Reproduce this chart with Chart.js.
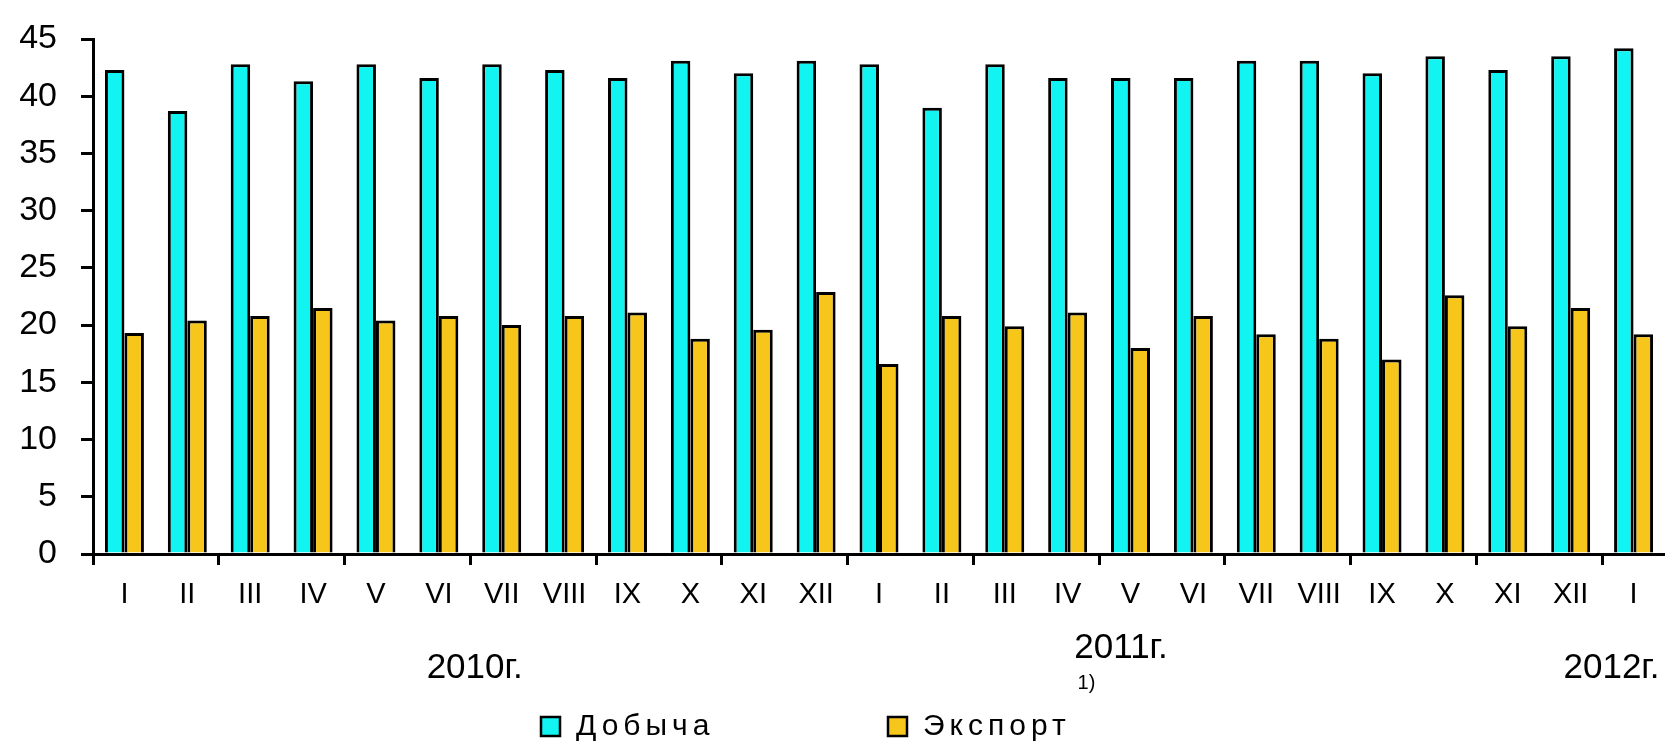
<!DOCTYPE html>
<html lang="ru">
<head>
<meta charset="utf-8">
<title>Добыча и экспорт</title>
<script src="https://cdn.jsdelivr.net/npm/chart.js@4.4.1/dist/chart.umd.min.js"></script>
<style>
  html, body { margin: 0; padding: 0; background: #fff; overflow: hidden; }
  canvas { display: block; }
</style>
</head>
<body>
<canvas id="chart" width="1665" height="741"></canvas>
<script>
// Месяцы: январь 2010 – январь 2012
const months = ['I', 'II', 'III', 'IV', 'V', 'VI', 'VII', 'VIII', 'IX', 'X', 'XI', 'XII',
  'I', 'II', 'III', 'IV', 'V', 'VI', 'VII', 'VIII', 'IX', 'X', 'XI', 'XII', 'I'];
const years = ['2010г.', '2011г.', '2012г.'];
const footnote = '1)';

const seriesNames = ['Добыча', 'Экспорт'];

const production = [42.3, 38.7, 42.8, 41.3, 42.8, 41.6, 42.8, 42.3, 41.6, 43.1, 42.0, 43.1,
  42.8, 39.0, 42.8, 41.6, 41.6, 41.6, 43.1, 43.1, 42.0, 43.5, 42.3, 43.5, 44.2];
const exportValues = [19.3, 20.4, 20.8, 21.5, 20.4, 20.8, 20.0, 20.8, 21.1, 18.8, 19.6, 22.9,
  16.6, 20.8, 19.9, 21.1, 18.0, 20.8, 19.2, 18.8, 17.0, 22.6, 19.9, 21.5, 19.2];

const FONT = "'Liberation Sans', Arial, sans-serif";
const TEXT = '#000';

// Подписи годов, сноска и легенда под осью
const extraLabels = {
  id: 'extraLabels',
  afterDraw(chart) {
    const { ctx, scales: { x } } = chart;
    ctx.save();
    ctx.fillStyle = TEXT;
    ctx.textAlign = 'center';
    ctx.textBaseline = 'middle';
    ctx.font = '35px ' + FONT;
    ctx.fillText(years[0], x.getPixelForValue(5.57), 668);
    ctx.fillText(years[1], x.getPixelForValue(15.85), 648);
    ctx.fillText(years[2], x.getPixelForValue(23.65), 668);
    ctx.font = '20px ' + FONT;
    ctx.fillText(footnote, x.getPixelForValue(15.3), 683);

    // легенда
    const starts = [541, 888];
    ctx.textAlign = 'left';
    ctx.font = '30px ' + FONT;
    ctx.letterSpacing = '5px';
    chart.data.datasets.forEach((ds, i) => {
      const bx = starts[i];
      ctx.fillStyle = ds.backgroundColor;
      ctx.fillRect(bx, 717, 19, 19);
      ctx.lineWidth = 2.5;
      ctx.strokeStyle = '#000';
      ctx.strokeRect(bx, 717, 19, 19);
      ctx.fillStyle = TEXT;
      ctx.fillText(ds.label, bx + 35, 727);
    });
    ctx.restore();
  }
};

const ctx = document.getElementById('chart').getContext('2d');
new Chart(ctx, {
  type: 'bar',
  data: {
    labels: months,
    datasets: [
      {
        label: seriesNames[0],
        data: production,
        backgroundColor: '#12F4F2',
        borderColor: '#000',
        borderWidth: 3
      },
      {
        label: seriesNames[1],
        data: exportValues,
        backgroundColor: '#F7C61A',
        borderColor: '#000',
        borderWidth: 3
      }
    ]
  },
  options: {
    responsive: false,
    animation: false,
    devicePixelRatio: 1,
    layout: { padding: { top: 39, right: 0, bottom: 0, left: 0 } },
    datasets: {
      bar: { categoryPercentage: 0.62, barPercentage: 1.0 }
    },
    plugins: {
      legend: { display: false },
      tooltip: { enabled: false }
    },
    scales: {
      x: {
        offset: true,
        grid: {
          offset: true,
          drawOnChartArea: false,
          tickLength: 11,
          lineWidth: 3,
          color: c => (c.index % 2 === 0 ? '#000' : 'rgba(0,0,0,0)')
        },
        border: { color: '#000', width: 3 },
        ticks: {
          color: TEXT,
          font: { size: 29, family: FONT },
          padding: 13,
          maxRotation: 0,
          autoSkip: false
        },
        afterFit(scale) {
          scale.height = 187;
          scale.paddingLeft = 0;
          scale.paddingRight = 0;
        }
      },
      y: {
        min: 0,
        max: 45,
        grid: {
          drawOnChartArea: false,
          tickLength: 12,
          lineWidth: 3,
          color: '#000'
        },
        border: { color: '#000', width: 3 },
        ticks: {
          stepSize: 5,
          color: TEXT,
          font: { size: 34, family: FONT },
          padding: 24
        },
        afterFit(scale) {
          scale.width = 93;
          scale.paddingTop = 0;
          scale.paddingBottom = 0;
        }
      }
    }
  },
  plugins: [extraLabels]
});
</script>
</body>
</html>
